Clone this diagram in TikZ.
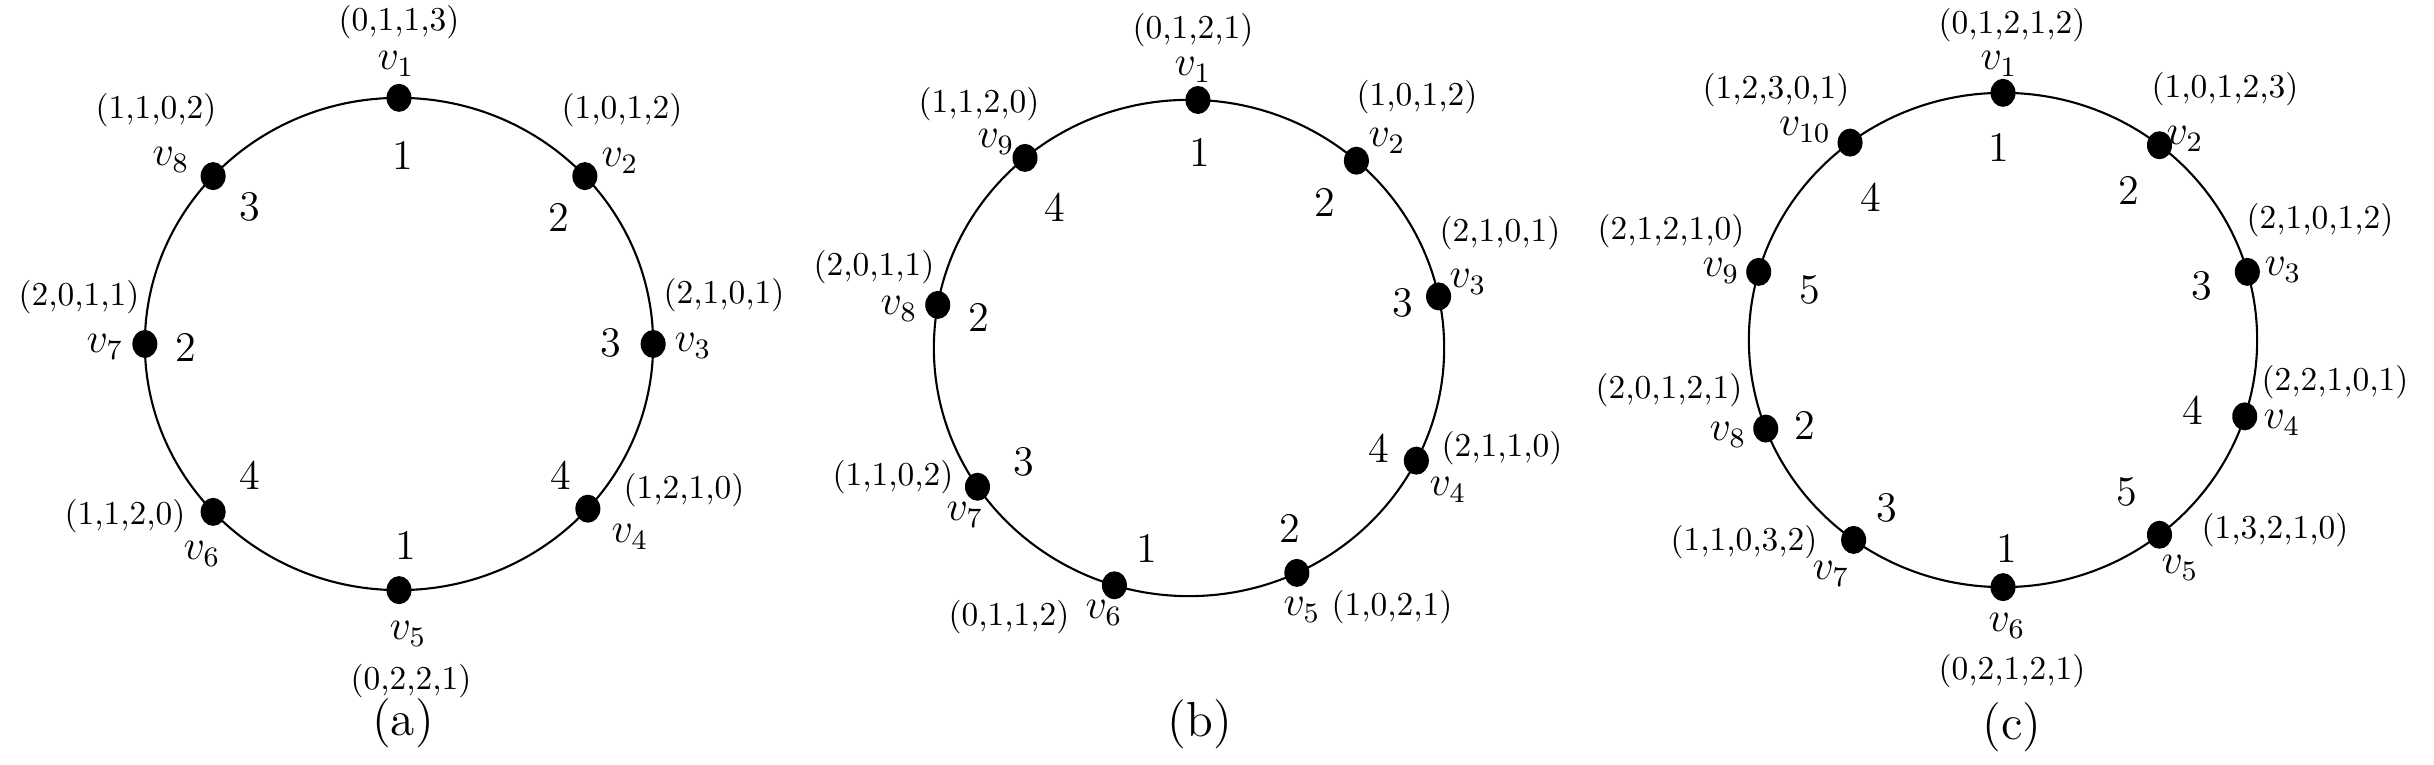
\documentclass[tikz,border=0pt]{standalone}
\usetikzlibrary{shapes.geometric}
\begin{document}
\begin{tikzpicture}[
  x=0.01cm, y=-0.01cm,
  ring/.style={line width=0.6pt},
  vtx/.style={ellipse, fill=black, inner sep=0pt, minimum width=0.25cm, minimum height=0.28cm},
  vname/.style={font=\fontsize{12}{12}\selectfont, inner sep=0pt},
  tup/.style={font=\fontsize{9.5}{10}\selectfont, inner sep=0pt},
  num/.style={font=\fontsize{12}{12}\selectfont, inner sep=0pt},
  subcap/.style={font=\fontsize{14}{14}\selectfont, inner sep=0pt}
]
\useasboundingbox (0,0) rectangle (2434,765);

% (a) eight vertices
\coordinate (ca) at (399,344);
\draw[ring] (ca) ellipse [x radius=2.54cm, y radius=2.46cm];
\node[vtx] (a1) at ([shift={(90:2.54cm and 2.46cm)}]ca) {};
\node[vtx] (a2) at ([shift={(43:2.54cm and 2.46cm)}]ca) {};
\node[vtx] (a3) at ([shift={(0:2.54cm and 2.46cm)}]ca) {};
\node[vtx] (a4) at ([shift={(-42:2.54cm and 2.46cm)}]ca) {};
\node[vtx] (a5) at ([shift={(-90:2.54cm and 2.46cm)}]ca) {};
\node[vtx] (a6) at ([shift={(-137:2.54cm and 2.46cm)}]ca) {};
\node[vtx] (a7) at ([shift={(180:2.54cm and 2.46cm)}]ca) {};
\node[vtx] (a8) at ([shift={(137:2.54cm and 2.46cm)}]ca) {};
\node[vname] (a1v) at (396,64) {$v_1$};
\node[vname] (a2v) at (620,161) {$v_2$};
\node[vname] (a3v) at (693,346) {$v_3$};
\node[vname] (a4v) at (630,537) {$v_4$};
\node[vname] (a5v) at (408,634) {$v_5$};
\node[vname] (a6v) at (202,554) {$v_6$};
\node[vname] (a7v) at (105,347) {$v_7$};
\node[vname] (a8v) at (171,160) {$v_8$};
\node[tup] (a1t) at (399,22) {(0,1,1,3)};
\node[tup] (a2t) at (622,110) {(1,0,1,2)};
\node[tup] (a3t) at (724,295) {(2,1,0,1)};
\node[tup] (a4t) at (684,490) {(1,2,1,0)};
\node[tup] (a5t) at (411,681) {(0,2,2,1)};
\node[tup] (a6t) at (125,516) {(1,1,2,0)};
\node[tup] (a7t) at (79,297) {(2,0,1,1)};
\node[tup] (a8t) at (156,110) {(1,1,0,2)};
\node[num] (a1n) at (403,155) {1};
\node[num] (a2n) at (559,217) {2};
\node[num] (a3n) at (611,343) {3};
\node[num] (a4n) at (561,475) {4};
\node[num] (a5n) at (406,545) {1};
\node[num] (a6n) at (250,475) {4};
\node[num] (a7n) at (186,347) {2};
\node[num] (a8n) at (250,207) {3};
\node[subcap] (acap) at (403,723) {(a)};

% (b) nine vertices
\coordinate (cb) at (1189,348);
\draw[ring] (cb) ellipse [x radius=2.55cm, y radius=2.48cm];
\node[vtx] (b1) at ([shift={(88:2.55cm and 2.48cm)}]cb) {};
\node[vtx] (b2) at ([shift={(49:2.55cm and 2.48cm)}]cb) {};
\node[vtx] (b3) at ([shift={(12:2.55cm and 2.48cm)}]cb) {};
\node[vtx] (b4) at ([shift={(-27:2.55cm and 2.48cm)}]cb) {};
\node[vtx] (b5) at ([shift={(-65:2.55cm and 2.48cm)}]cb) {};
\node[vtx] (b6) at ([shift={(-107:2.55cm and 2.48cm)}]cb) {};
\node[vtx] (b7) at ([shift={(-146:2.55cm and 2.48cm)}]cb) {};
\node[vtx] (b8) at ([shift={(170:2.55cm and 2.48cm)}]cb) {};
\node[vtx] (b9) at ([shift={(130:2.55cm and 2.48cm)}]cb) {};
\node[vname] (b1v) at (1193,70) {$v_1$};
\node[vname] (b2v) at (1387,141) {$v_2$};
\node[vname] (b3v) at (1468,282) {$v_3$};
\node[vname] (b4v) at (1448,490) {$v_4$};
\node[vname] (b5v) at (1302,610) {$v_5$};
\node[vname] (b6v) at (1104,613) {$v_6$};
\node[vname] (b7v) at (965,515) {$v_7$};
\node[vname] (b8v) at (899,309) {$v_8$};
\node[vname] (b9v) at (996,142) {$v_9$};
\node[tup] (b1t) at (1193,30) {(0,1,2,1)};
\node[tup] (b2t) at (1417,97) {(1,0,1,2)};
\node[tup] (b3t) at (1500,233) {(2,1,0,1)};
\node[tup] (b4t) at (1502,448) {(2,1,1,0)};
\node[tup] (b5t) at (1392,607) {(1,0,2,1)};
\node[tup] (b6t) at (1009,617) {(0,1,1,2)};
\node[tup] (b7t) at (893,477) {(1,1,0,2)};
\node[tup] (b8t) at (874,267) {(2,0,1,1)};
\node[tup] (b9t) at (979,104) {(1,1,2,0)};
\node[num] (b1n) at (1200,152) {1};
\node[num] (b2n) at (1325,202) {2};
\node[num] (b3n) at (1403,303) {3};
\node[num] (b4n) at (1379,448) {4};
\node[num] (b5n) at (1290,528) {2};
\node[num] (b6n) at (1147,548) {1};
\node[num] (b7n) at (1024,462) {3};
\node[num] (b8n) at (979,317) {2};
\node[num] (b9n) at (1055,207) {4};
\node[subcap] (bcap) at (1200,724) {(b)};

% (c) ten vertices
\coordinate (cc) at (2003,340);
\draw[ring] (cc) ellipse [x radius=2.54cm, y radius=2.47cm];
\node[vtx] (c1) at ([shift={(90:2.54cm and 2.47cm)}]cc) {};
\node[vtx] (c2) at ([shift={(52:2.54cm and 2.47cm)}]cc) {};
\node[vtx] (c3) at ([shift={(16:2.54cm and 2.47cm)}]cc) {};
\node[vtx] (c4) at ([shift={(-18:2.54cm and 2.47cm)}]cc) {};
\node[vtx] (c5) at ([shift={(-52:2.54cm and 2.47cm)}]cc) {};
\node[vtx] (c6) at ([shift={(-90:2.54cm and 2.47cm)}]cc) {};
\node[vtx] (c7) at ([shift={(-126:2.54cm and 2.47cm)}]cc) {};
\node[vtx] (c8) at ([shift={(-159:2.54cm and 2.47cm)}]cc) {};
\node[vtx] (c9) at ([shift={(164:2.54cm and 2.47cm)}]cc) {};
\node[vtx] (c10) at ([shift={(127:2.54cm and 2.47cm)}]cc) {};
\node[vname] (c1v) at (1999,64) {$v_1$};
\node[vname] (c2v) at (2185,139) {$v_2$};
\node[vname] (c3v) at (2283,270) {$v_3$};
\node[vname] (c4v) at (2282,423) {$v_4$};
\node[vname] (c5v) at (2180,568) {$v_5$};
\node[vname] (c6v) at (2007,626) {$v_6$};
\node[vname] (c7v) at (1831,574) {$v_7$};
\node[vname] (c8v) at (1728,435) {$v_8$};
\node[vname] (c9v) at (1721,271) {$v_9$};
\node[vname] (c10v) at (1805,130) {$v_{10}$};
\node[tup] (c1t) at (2012,25) {(0,1,2,1,2)};
\node[tup] (c2t) at (2225,89) {(1,0,1,2,3)};
\node[tup] (c3t) at (2320,220) {(2,1,0,1,2)};
\node[tup] (c4t) at (2335,382) {(2,2,1,0,1)};
\node[tup] (c5t) at (2275,530) {(1,3,2,1,0)};
\node[tup] (c6t) at (2012,671) {(0,2,1,2,1)};
\node[tup] (c7t) at (1744,542) {(1,1,0,3,2)};
\node[tup] (c8t) at (1669,390) {(2,0,1,2,1)};
\node[tup] (c9t) at (1671,231) {(2,1,2,1,0)};
\node[tup] (c10t) at (1776,90) {(1,2,3,0,1)};
\node[num] (c1n) at (1999,147) {1};
\node[num] (c2n) at (2129,190) {2};
\node[num] (c3n) at (2202,286) {3};
\node[num] (c4n) at (2193,410) {4};
\node[num] (c5n) at (2127,492) {5};
\node[num] (c6n) at (2007,548) {1};
\node[num] (c7n) at (1887,508) {3};
\node[num] (c8n) at (1805,425) {2};
\node[num] (c9n) at (1810,290) {5};
\node[num] (c10n) at (1871,197) {4};
\node[subcap] (ccap) at (2012,727) {(c)};
\end{tikzpicture}
\end{document}
